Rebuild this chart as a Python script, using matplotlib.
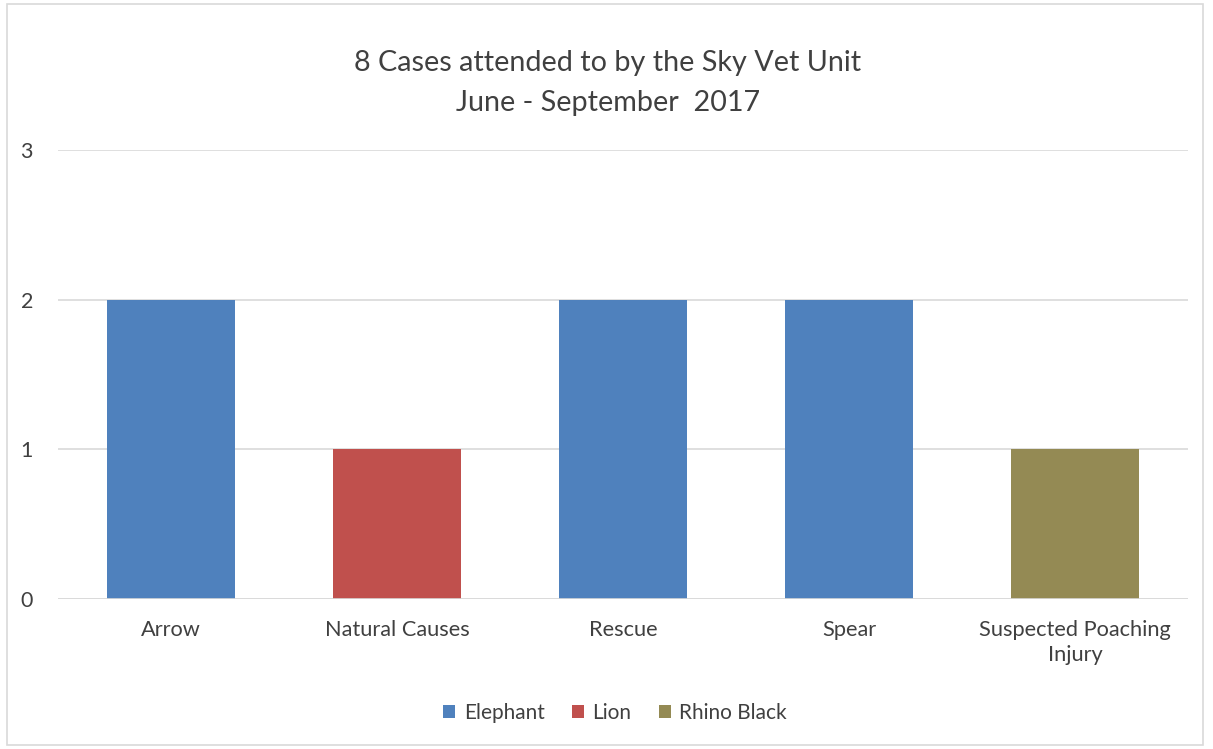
import matplotlib
matplotlib.use("Agg")
import matplotlib.pyplot as plt
from matplotlib.patches import Rectangle
import numpy as np

plt.rcParams['font.family'] = ['Lato', 'DejaVu Sans']

categories = ["Arrow", "Natural Causes", "Rescue", "Spear", "Suspected Poaching\nInjury"]
series_names = ["Elephant", "Lion", "Rhino Black"]
elephant = [2, 0, 2, 2, 0]
lion = [0, 1, 0, 0, 0]
rhino_black = [0, 0, 0, 0, 1]
colors = ["#4F81BD", "#C0504D", "#948A54"]
yticks = [0, 1, 2, 3]

W, H = 1213, 749
fig = plt.figure(figsize=(W/100, H/100), dpi=100)
fig.patch.set_facecolor("white")
fig.add_artist(Rectangle((7/W, 1-745/H), (1203-7)/W, (745-4)/H, transform=fig.transFigure,
                         fill=False, edgecolor="#D9D9D9", linewidth=1.2))

ax = fig.add_axes([58/W, 1-599/H, (1188-58)/W, (599-150)/H])
x = np.arange(len(categories))
bottom = np.zeros(len(categories))
for name, vals, c in zip(series_names, [elephant, lion, rhino_black], colors):
    ax.bar(x, vals, bottom=bottom, width=0.57, color=c, label=name, zorder=3)
    bottom += np.array(vals)

ax.set_xlim(-0.5, len(categories) - 0.5)
ax.set_ylim(0, 3)
ax.set_yticks(yticks)
ax.set_yticklabels([str(v) for v in yticks], fontsize=15.5, color="#404040")
ax.set_xticks(x)
ax.set_xticklabels(categories, fontsize=15.7, color="#404040", linespacing=1.3)
ax.tick_params(axis='both', length=0)
ax.tick_params(axis='y', pad=18)
ax.tick_params(axis='x', pad=15)
ax.yaxis.grid(True, color="#D9D9D9", linewidth=1.2, zorder=0)
for s in ax.spines.values():
    s.set_visible(False)
ax.axhline(0, color="#D9D9D9", linewidth=1.2, zorder=4)

fig.text(608/W, 1-63/H, "8 Cases attended to by the Sky Vet Unit", ha="center", va="center",
         fontsize=20.7, color="#404040")
fig.text(608/W, 1-103/H, "June - September  2017", ha="center", va="center",
         fontsize=20.7, color="#404040")

leg = fig.legend(loc="center", bbox_to_anchor=(615/W, 1-713/H), ncol=3, frameon=False,
                 fontsize=15, handlelength=0.6, handleheight=0.6, handletextpad=0.4,
                 columnspacing=1.3, labelcolor="#404040")

fig.savefig("out.png", dpi=100)
